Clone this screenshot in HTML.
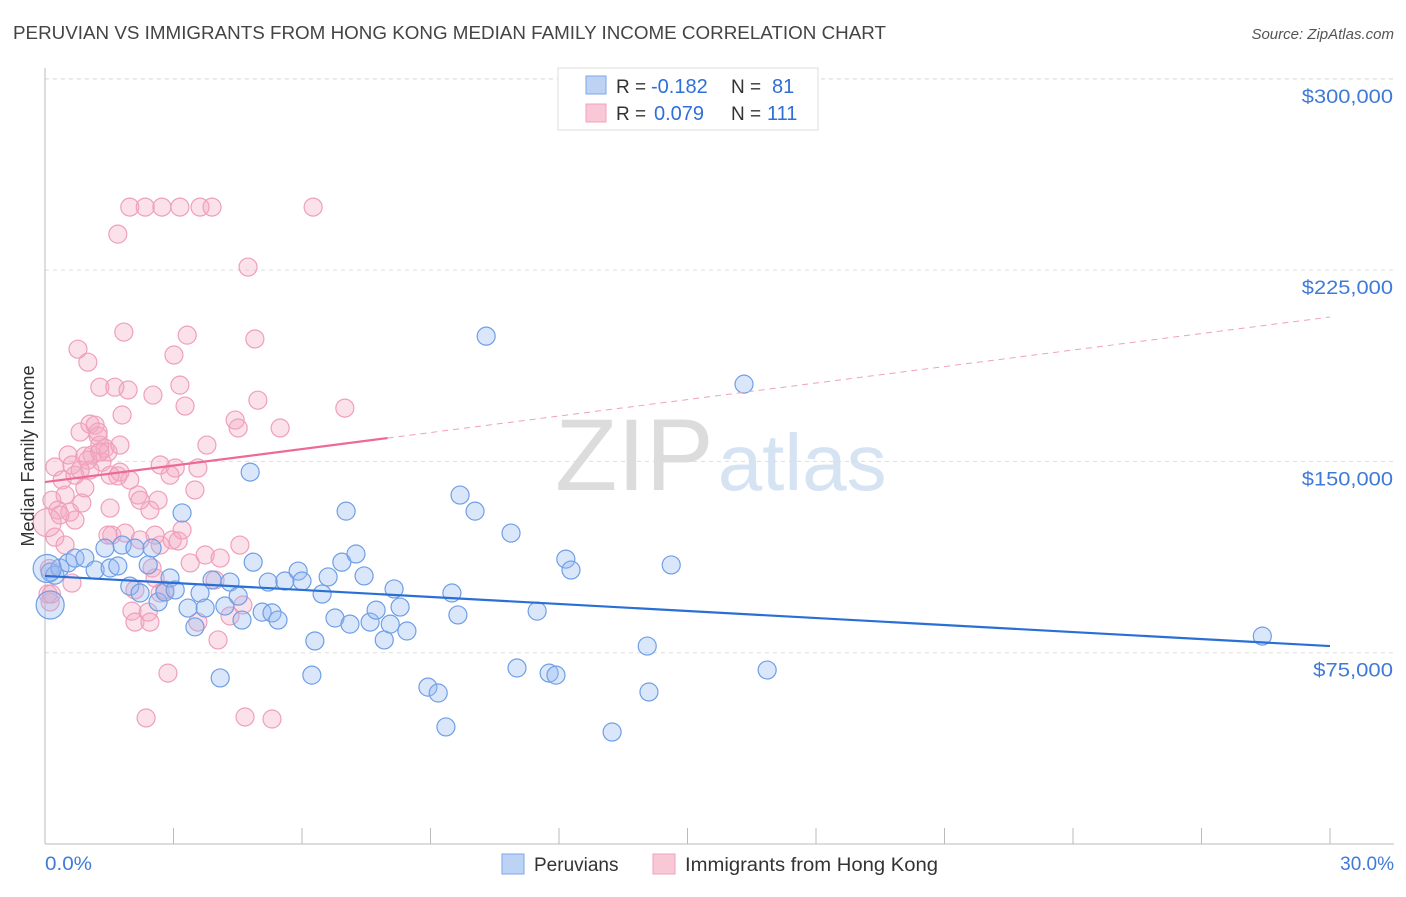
<!DOCTYPE html>
<html><head><meta charset="utf-8"><style>
body{margin:0;background:#fff;font-family:"Liberation Sans",sans-serif;}
svg text{font-family:"Liberation Sans",sans-serif;}
</style></head><body>
<svg id="chart" width="1406" height="892" viewBox="0 0 1406 892" xmlns="http://www.w3.org/2000/svg">
<text x="13" y="39" font-size="18" fill="#444" textLength="873" lengthAdjust="spacingAndGlyphs">PERUVIAN VS IMMIGRANTS FROM HONG KONG MEDIAN FAMILY INCOME CORRELATION CHART</text>
<text x="1394" y="39" font-size="15" fill="#555" text-anchor="end" font-style="italic">Source: ZipAtlas.com</text>
<text x="555" y="490" font-size="102" fill="#e6e6e6" font-family="Liberation Serif"><tspan fill="#dcdcdc">ZIP</tspan><tspan fill="#d5e3f3" font-family="Liberation Sans" font-size="80" dx="4">atlas</tspan></text>
<g id="grid"></g>
<g id="axes"></g>
<g id="pts"></g>
<g id="trends"></g>
<text transform="translate(34,456) rotate(-90)" font-size="18" fill="#333" text-anchor="middle">Median Family Income</text>
<text x="45" y="870" font-size="19" fill="#3f7ad8" textLength="47" lengthAdjust="spacingAndGlyphs">0.0%</text>
<text x="1394" y="870" font-size="19" fill="#3f7ad8" text-anchor="end">30.0%</text>
<g>
<rect x="558" y="68" width="260" height="62" fill="#fff" stroke="#ddd"/>
<rect x="586" y="76" width="20" height="18" fill="#bcd3f5" stroke="#7da7e8"/>
<text x="616" y="93" font-size="19" fill="#333">R =</text>
<text x="651" y="93" font-size="20" fill="#2f6fd6">-0.182</text>
<text x="731" y="93" font-size="19" fill="#333">N =</text>
<text x="772" y="93" font-size="20" fill="#2f6fd6">81</text>
<rect x="586" y="104" width="20" height="18" fill="#f8c8d7" stroke="#f0a0bc"/>
<text x="616" y="120" font-size="19" fill="#333">R =</text>
<text x="654" y="120" font-size="20" fill="#2f6fd6">0.079</text>
<text x="731" y="120" font-size="19" fill="#333">N =</text>
<text x="767" y="120" font-size="20" fill="#2f6fd6">111</text>
</g>
<g>
<rect x="502" y="854" width="22" height="20" fill="#bcd3f5" stroke="#7da7e8"/>
<text x="534" y="871" font-size="19" fill="#333">Peruvians</text>
<rect x="653" y="854" width="22" height="20" fill="#f8c8d7" stroke="#f0a0bc"/>
<text x="685" y="871" font-size="19" fill="#333" textLength="253" lengthAdjust="spacingAndGlyphs">Immigrants from Hong Kong</text>
</g>
</svg>
<script>
const yTicks=[75000,150000,225000,300000];
const yTickLabels=["$75,000","$150,000","$225,000","$300,000"];
const xTicks=[0,3,6,9,12,15,18,21,24,27,30];
const blueX=[0.12,0.23,0.35,0.54,0.70,0.93,1.17,1.40,1.52,1.70,1.80,1.98,2.10,2.22,2.41,2.50,2.64,2.80,2.92,3.04,3.20,3.34,3.50,3.62,3.74,3.90,4.09,4.20,4.32,4.51,4.60,4.79,4.86,5.07,5.21,5.30,5.44,5.60,5.91,6.00,6.23,6.30,6.47,6.61,6.77,6.93,7.03,7.12,7.26,7.45,7.59,7.73,7.92,8.06,8.15,8.29,8.45,8.94,9.18,9.36,9.50,9.64,9.69,10.04,10.30,10.88,11.02,11.49,11.77,11.93,12.16,12.28,13.24,14.06,14.10,14.62,16.32,16.86,28.42,0.12,0.05];
const blueY=[106.6,105.4,108.2,110.2,112.1,112.1,107.4,116.0,108.2,109.0,117.2,101.1,116.0,98.4,109.4,116.0,94.9,98.8,104.3,99.6,129.8,92.5,85.1,98.4,92.5,103.5,65.1,93.3,102.7,97.2,87.8,145.8,110.5,90.9,102.7,90.6,87.8,103.1,107.0,103.1,66.2,79.6,98.0,104.7,88.6,110.5,130.5,86.2,113.7,105.1,87.0,91.7,80.0,86.2,100.0,92.9,83.5,61.5,59.2,45.9,98.4,89.8,136.8,130.5,199.1,121.9,69.0,91.3,67.0,66.2,111.7,107.4,43.9,77.6,59.6,109.4,180.3,68.2,81.5,93.7,108];
const pinkX=[0.12,0.16,0.23,0.23,0.30,0.40,0.47,0.54,0.58,0.63,0.70,0.77,0.82,0.86,0.93,0.93,1.00,1.05,1.10,1.17,1.24,1.28,1.33,1.40,1.47,1.52,1.56,1.63,1.70,1.75,1.80,1.84,1.87,1.94,1.98,2.03,2.10,2.17,2.22,2.34,2.36,2.41,2.45,2.50,2.52,2.57,2.64,2.69,2.73,2.80,2.87,2.97,3.01,3.04,3.11,3.15,3.20,3.27,3.32,3.39,3.50,3.57,3.57,3.62,3.74,3.78,3.90,3.97,4.04,4.09,4.32,4.44,4.51,4.55,4.62,4.67,4.74,4.90,4.97,5.30,5.49,6.26,7.00,1.70,0.35,0.47,0.63,1.05,1.28,1.52,1.98,2.45,2.69,2.92,3.15,1.75,2.22,2.57,1.47,1.24,1.00,0.82,0.70,2.69,2.10,1.28,0.07,0.10,0.05,0.15];
const pinkY=[94.9,134.8,120.3,147.8,130.9,142.7,136.8,152.5,130.1,148.6,144.6,194.0,161.5,133.7,139.6,152.1,188.9,164.6,152.5,164.2,159.9,179.1,149.7,155.2,153.7,131.7,121.1,179.1,144.3,145.8,168.2,200.7,121.9,178.0,249.7,91.3,87.0,136.8,119.2,249.7,49.4,90.9,87.0,108.2,176.0,104.3,134.8,117.2,249.7,99.6,67.0,119.2,191.7,147.4,118.8,249.7,123.1,171.7,199.5,110.2,138.8,147.4,87.0,249.7,113.3,156.4,249.7,103.5,80.0,112.1,89.4,166.2,163.1,117.2,93.7,49.8,226.2,198.0,174.0,49.0,163.1,249.7,170.9,239.1,129.0,117.2,102.3,146.6,156.4,144.6,142.7,130.9,148.6,144.6,179.9,156.4,134.8,121.1,121.1,161.5,150.5,146.6,127.0,98.4,99.6,153.7,98.0,108,126,98];
const blueTrend=[105.1,77.6];
const pinkTrend=[141.9,206.6];
const pinkSolidEnd=8.0;

const X0=45,X1=1330,YB=844,PXK=191.3/75;
const xs=v=>X0+(v/30)*(X1-X0);
const ys=k=>YB-k*PXK;
const NS="http://www.w3.org/2000/svg";
function mk(tag,attrs,parent){const e=document.createElementNS(NS,tag);for(const k in attrs)e.setAttribute(k,attrs[k]);parent.appendChild(e);return e;}
const grid=document.getElementById('grid'),axes=document.getElementById('axes'),pts=document.getElementById('pts'),tr=document.getElementById('trends');
yTicks.forEach((t,i)=>{
 const y=ys(t/1000);
 const l=mk('line',{x1:X0,x2:1394,y1:y,y2:y,stroke:'#ddd','stroke-dasharray':'4,4'},grid);
 
 
 const tx=mk('text',{x:1393,y:y+24,'font-size':19,fill:'#3f7ad8','text-anchor':'end',textLength:yTickLabels[i].length*11.4,lengthAdjust:'spacingAndGlyphs'},grid);
 tx.textContent=yTickLabels[i];
 
 
});
mk('line',{x1:X0,x2:1394,y1:79,y2:79,stroke:'#ddd','stroke-dasharray':'4,4'},grid);
const ya=mk('line',{x1:X0,x2:X0,y1:68,y2:YB,stroke:'#bbb'},axes);


const xa=mk('line',{x1:X0,x2:1394,y1:YB,y2:YB,stroke:'#bbb'},axes);


xTicks.forEach(t=>{
 const tk=mk('line',{x1:xs(t),x2:xs(t),y1:828,y2:YB,stroke:'#bbb'},axes);
 
 
});
function draw(xa,ya,fill,stroke,name,bigIdx){
 xa.forEach((x,i)=>{
  const r=bigIdx.includes(i)?14:9;
  const c=mk('circle',{cx:xs(x),cy:ys(ya[i]),r:r,fill:fill,stroke:stroke,'stroke-width':1.2},pts);
  
  
 });
}
draw(pinkX,pinkY,'rgba(244,170,195,0.35)','#ef9fbb','hongkong-point',[108]);
draw(blueX,blueY,'rgba(150,185,240,0.35)','#6f9ee6','peruvian-point',[79,80]);
const bl=mk('line',{x1:xs(0),y1:ys(blueTrend[0]),x2:xs(30),y2:ys(blueTrend[1]),stroke:'#2a6fd6','stroke-width':2.2},tr);


const py=x=>pinkTrend[0]+(pinkTrend[1]-pinkTrend[0])*x/30;
const ps=mk('line',{x1:xs(0),y1:ys(py(0)),x2:xs(pinkSolidEnd),y2:ys(py(pinkSolidEnd)),stroke:'#ec6a94','stroke-width':2.2},tr);


const pd=mk('line',{x1:xs(pinkSolidEnd),y1:ys(py(pinkSolidEnd)),x2:xs(30),y2:ys(py(30)),stroke:'#f0a0bc','stroke-width':1,'stroke-dasharray':'6,5'},tr);


</script>
</body></html>
